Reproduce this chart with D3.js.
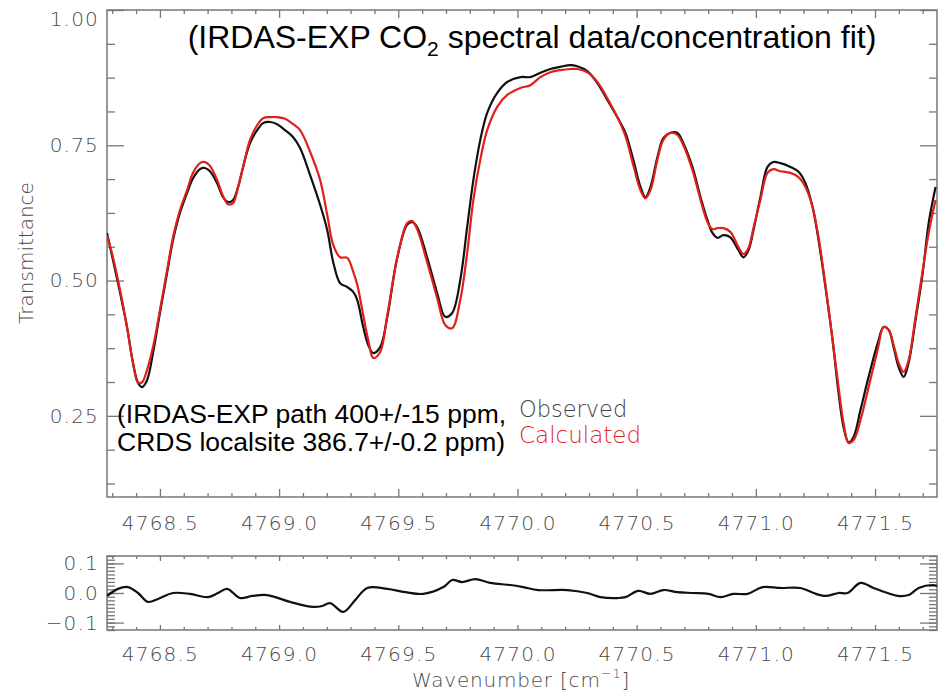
<!DOCTYPE html>
<html lang="en">
<head>
  <meta charset="UTF-8">
  <title>IRDAS-EXP CO2 fit</title>
  <script src="https://cdn.jsdelivr.net/npm/d3@7" charset="utf-8"></script>
  <style>
    body { margin: 0; background: #fff; }
    .axis path { display: none; }
    .axis line { stroke: #777; stroke-width: 1.3; }
    .axis text, .lab { font-family: 'DejaVu Sans', sans-serif; font-weight: 200; font-size: 20px; fill: #4a4a4a; }
    .axis text { letter-spacing: 1.2px; }
  </style>
</head>
<body>
</body>
<script>
  // spectrum
  let wavenumber = [4768.278,4768.303,4768.333,4768.362,4768.387,4768.408,4768.425,4768.446,4768.471,4768.500,
    4768.530,4768.555,4768.584,4768.614,4768.639,4768.668,4768.689,4768.710,4768.740,4768.765,
    4768.786,4768.807,4768.828,4768.849,4768.878,4768.908,4768.933,4768.962,4768.992,4769.025,
    4769.059,4769.088,4769.130,4769.172,4769.202,4769.227,4769.256,4769.286,4769.311,4769.328,
    4769.353,4769.374,4769.395,4769.424,4769.454,4769.496,4769.537,4769.558,4769.579,4769.621,
    4769.663,4769.697,4769.726,4769.760,4769.789,4769.815,4769.844,4769.873,4769.915,4769.957,
    4770.012,4770.054,4770.096,4770.138,4770.180,4770.222,4770.251,4770.293,4770.335,4770.377,
    4770.419,4770.453,4770.486,4770.516,4770.537,4770.558,4770.587,4770.612,4770.642,4770.671,
    4770.696,4770.734,4770.768,4770.797,4770.818,4770.839,4770.864,4770.893,4770.927,4770.948,
    4770.969,4770.990,4771.019,4771.049,4771.074,4771.103,4771.145,4771.179,4771.208,4771.238,
    4771.263,4771.292,4771.322,4771.347,4771.368,4771.389,4771.410,4771.439,4771.473,4771.511,
    4771.536,4771.557,4771.578,4771.599,4771.620,4771.641,4771.670,4771.700,4771.725,4771.754]
  let observed = [0.588,0.538,0.477,0.414,0.348,0.311,0.303,0.316,0.366,0.440,
    0.514,0.575,0.625,0.662,0.689,0.706,0.708,0.702,0.680,0.654,
    0.645,0.649,0.673,0.710,0.754,0.778,0.791,0.793,0.789,0.778,
    0.765,0.745,0.695,0.640,0.593,0.534,0.495,0.488,0.479,0.464,
    0.414,0.381,0.366,0.377,0.433,0.543,0.603,0.608,0.599,0.543,
    0.477,0.433,0.440,0.501,0.599,0.686,0.760,0.810,0.847,0.867,
    0.876,0.876,0.884,0.891,0.895,0.898,0.896,0.887,0.865,0.834,
    0.802,0.773,0.723,0.673,0.654,0.673,0.728,0.763,0.773,0.773,
    0.754,0.710,0.654,0.612,0.588,0.579,0.584,0.580,0.556,0.543,
    0.556,0.593,0.654,0.710,0.719,0.717,0.710,0.701,0.680,0.636,
    0.575,0.488,0.390,0.292,0.229,0.201,0.211,0.261,0.322,0.384,
    0.414,0.409,0.377,0.340,0.322,0.348,0.427,0.514,0.606,0.673]
  let calculated = [0.584,0.543,0.482,0.414,0.348,0.312,0.312,0.335,0.377,0.445,
    0.519,0.580,0.630,0.667,0.699,0.717,0.719,0.712,0.686,0.656,
    0.641,0.643,0.673,0.710,0.760,0.787,0.800,0.802,0.802,0.799,
    0.789,0.778,0.738,0.686,0.621,0.566,0.543,0.542,0.516,0.492,
    0.436,0.390,0.357,0.368,0.436,0.543,0.606,0.610,0.595,0.534,
    0.468,0.418,0.412,0.464,0.551,0.649,0.723,0.778,0.821,0.843,
    0.856,0.861,0.876,0.885,0.889,0.891,0.891,0.885,0.867,0.837,
    0.802,0.767,0.713,0.667,0.652,0.667,0.723,0.760,0.773,0.769,
    0.750,0.704,0.649,0.608,0.595,0.597,0.597,0.590,0.562,0.549,
    0.560,0.597,0.649,0.699,0.706,0.702,0.699,0.691,0.673,0.636,
    0.580,0.492,0.390,0.303,0.237,0.200,0.205,0.242,0.303,0.372,
    0.414,0.409,0.381,0.348,0.331,0.353,0.433,0.519,0.588,0.649]

  // residual panel
  let residWavenumber = [4768.278,4768.324,4768.366,4768.408,4768.450,4768.492,4768.555,4768.626,4768.702,4768.744,
    4768.782,4768.836,4768.887,4768.950,4769.046,4769.143,4769.181,4769.214,4769.269,4769.319,
    4769.370,4769.454,4769.529,4769.605,4769.689,4769.726,4769.768,4769.823,4769.886,4769.970,
    4770.024,4770.087,4770.209,4770.293,4770.348,4770.419,4770.453,4770.507,4770.558,4770.612,
    4770.671,4770.738,4770.801,4770.852,4770.906,4770.965,4771.028,4771.103,4771.187,4771.242,
    4771.292,4771.347,4771.385,4771.439,4771.494,4771.553,4771.595,4771.641,4771.683,4771.742,4771.760]
  let residual = [-0.010,0.014,0.020,0.000,-0.030,-0.020,0.000,-0.003,-0.014,0.000,
    0.014,-0.017,-0.010,-0.007,-0.030,-0.047,-0.044,-0.034,-0.064,-0.024,
    0.017,0.014,0.003,-0.003,0.020,0.044,0.037,0.047,0.034,0.027,
    0.020,0.010,0.010,0.000,-0.014,-0.017,-0.014,0.007,-0.003,0.010,
    0.003,0.000,-0.003,-0.014,-0.003,-0.003,0.020,0.017,0.017,0.000,
    -0.010,0.000,0.000,0.034,0.017,0.000,-0.010,-0.007,0.017,0.027,0.024]

  let xTicks = [4768.5, 4769.0, 4769.5, 4770.0, 4770.5, 4771.0, 4771.5]
  let yTicks = [0.25, 0.50, 0.75, 1.00]
  let residTicks = [-0.1, 0.0, 0.1]

  var svg = d3.select('body').append('svg').attr('width', 940).attr('height', 691)
  svg.append('rect').attr('width', 940).attr('height', 691).attr('fill', '#fff')

  var x = d3.scaleLinear().domain([4768.278, 4771.76]).range([107, 937])
  var y = d3.scaleLinear().domain([0.1, 1.0]).range([497, 10])
  var yr = d3.scaleLinear().domain([-0.125, 0.125]).range([630, 556])

  var xMinor = d3.range(4768.3, 4771.75, 0.1).filter(v => Math.abs(v * 2 - Math.round(v * 2)) > 0.01)
  var yMinor = d3.range(0.125, 1.0, 0.0625).filter(v => Math.abs(v * 4 - Math.round(v * 4)) > 0.01)
  var rMinor = d3.range(-0.125, 0.126, 0.0125)

  function ticks(tr, axis, size, fmt, pad) {
    var a = axis.tickSize(size).tickPadding(pad || 3).tickFormat(fmt || '')
    return svg.append('g').attr('class', 'axis').attr('transform', tr).call(a)
  }

  // main panel axes
  ticks('translate(0,497)', d3.axisBottom(x).tickValues(xMinor), -4)
  ticks('translate(0,497)', d3.axisBottom(x).tickValues(xTicks), -8, d3.format('.1f'), 19)
  ticks('translate(0,10)', d3.axisTop(x).tickValues(xMinor), -4)
  ticks('translate(0,10)', d3.axisTop(x).tickValues(xTicks), -8)
  ticks('translate(107,0)', d3.axisLeft(y).tickValues(yMinor), -8)
  var yl = ticks('translate(107,0)', d3.axisLeft(y).tickValues(yTicks), -17, d3.format('.2f'), 8)
  yl.selectAll('text').filter(d => d === 1.0).attr('dy', '0.75em')
  ticks('translate(937,0)', d3.axisRight(y).tickValues(yMinor), -8)
  ticks('translate(937,0)', d3.axisRight(y).tickValues(yTicks), -17)
  svg.append('rect').attr('x', 107).attr('y', 10).attr('width', 830).attr('height', 487)
    .attr('fill', 'none').attr('stroke', '#777').attr('stroke-width', 1.5)

  // residual panel axes
  ticks('translate(0,630)', d3.axisBottom(x).tickValues(xMinor), -3)
  ticks('translate(0,630)', d3.axisBottom(x).tickValues(xTicks), -5, d3.format('.1f'), 17)
  ticks('translate(0,556)', d3.axisTop(x).tickValues(xMinor), -3)
  ticks('translate(0,556)', d3.axisTop(x).tickValues(xTicks), -5)
  ticks('translate(107,0)', d3.axisLeft(yr).tickValues(rMinor), -8)
  ticks('translate(107,0)', d3.axisLeft(yr).tickValues(residTicks), -17, d3.format('.1f'), 8)
  ticks('translate(937,0)', d3.axisRight(yr).tickValues(rMinor), -8)
  ticks('translate(937,0)', d3.axisRight(yr).tickValues(residTicks), -17)
  svg.append('rect').attr('x', 107).attr('y', 556).attr('width', 830).attr('height', 74)
    .attr('fill', 'none').attr('stroke', '#777').attr('stroke-width', 1.5)

  svg.append('clipPath').attr('id', 'clipMain').append('rect')
    .attr('x', 107).attr('y', 10).attr('width', 830).attr('height', 487)
  svg.append('clipPath').attr('id', 'clipRes').append('rect')
    .attr('x', 107).attr('y', 556).attr('width', 830).attr('height', 74)

  var line = d3.line().x(d => x(d[0])).y(d => y(d[1])).curve(d3.curveCatmullRom.alpha(0.5))
  var rline = d3.line().x(d => x(d[0])).y(d => yr(d[1])).curve(d3.curveCatmullRom.alpha(0.5))

  svg.append('path').attr('clip-path', 'url(#clipMain)')
    .attr('d', line(wavenumber.map((w, i) => [w, observed[i]])))
    .attr('fill', 'none').attr('stroke', '#111').attr('stroke-width', 2.2)
  svg.append('path').attr('clip-path', 'url(#clipMain)')
    .attr('d', line(wavenumber.map((w, i) => [w, calculated[i]])))
    .attr('fill', 'none').attr('stroke', '#e0201c').attr('stroke-width', 2.2)
  svg.append('path').attr('clip-path', 'url(#clipRes)')
    .attr('d', rline(residWavenumber.map((w, i) => [w, residual[i]])))
    .attr('fill', 'none').attr('stroke', '#111').attr('stroke-width', 2.2)

  // labels
  svg.append('text').attr('class', 'lab').attr('transform', 'translate(33,253) rotate(-90)')
    .attr('text-anchor', 'middle').text('Transmittance')
  var wl = svg.append('text').attr('class', 'lab').attr('x', 521).attr('y', 687).attr('text-anchor', 'middle')
    .style('letter-spacing', '0.8px')
  wl.append('tspan').text('Wavenumber [cm')
  wl.append('tspan').attr('dy', -9).style('font-size', '13px').text('\u22121')
  wl.append('tspan').attr('dy', 9).text(']')

  var title = svg.append('text').attr('x', 532).attr('y', 48).attr('text-anchor', 'middle')
    .style('font-family', "'Liberation Sans', Arial, sans-serif").style('font-size', '32px').attr('fill', '#000')
  title.append('tspan').text('(IRDAS-EXP CO')
  title.append('tspan').attr('dy', 8).style('font-size', '21px').text('2')
  title.append('tspan').attr('dy', -8).text(' spectral data/concentration fit)')

  var note = svg.append('g').style('font-family', "'Liberation Sans', Arial, sans-serif").style('font-size', '26.5px')
  note.append('text').attr('x', 117).attr('y', 423).text('(IRDAS-EXP path 400+/-15 ppm,')
  note.append('text').attr('x', 117).attr('y', 451).text('CRDS localsite 386.7+/-0.2 ppm)')

  svg.append('text').attr('class', 'lab').attr('x', 519).attr('y', 417)
    .style('font-size', '22.5px').style('fill', '#444').text('Observed')
  svg.append('text').attr('class', 'lab').attr('x', 519).attr('y', 443)
    .style('font-size', '23px').style('fill', '#e02828').text('Calculated')
</script>
</html>
